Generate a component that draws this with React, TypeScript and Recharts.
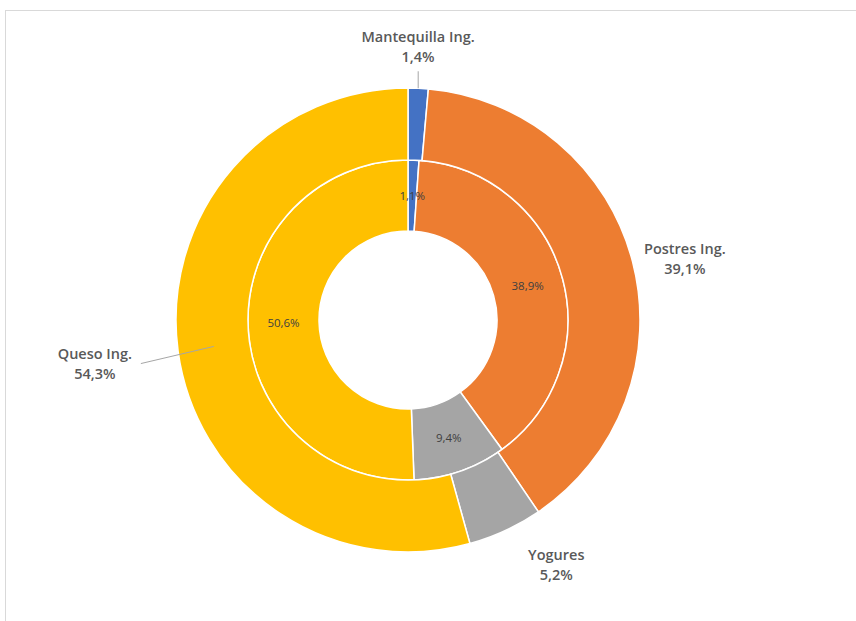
import { Cell, Pie, PieChart } from "recharts"

const CATEGORIES = ["Mantequilla Ing.", "Postres Ing.", "Yogures", "Queso Ing."]
const OUTER_VALUES = [1.4, 39.1, 5.2, 54.3]
const INNER_VALUES = [1.1, 38.9, 9.4, 50.6]

const COLORS = ["#4472c4", "#ed7d31", "#a5a5a5", "#ffc000"] as const

const RAD = Math.PI / 180
const fmt = (v: number) => `${v.toFixed(1).replace(".", ",")}%`

const outerData = CATEGORIES.map((name, i) => ({ name, value: OUTER_VALUES[i] }))
const innerData = CATEGORIES.map((name, i) => ({ name, value: INNER_VALUES[i] }))

// best-fit nudges for the outer labels, like Excel puts them
const LABEL_RADIUS = [42, 52, 52, 84]
const LABEL_NUDGE: [number, number][] = [
  [-2, 0],
  [2, 10],
  [29, -13],
  [0, 1],
]

function OuterLabel(props: any) {
  const { cx, cy, midAngle, outerRadius, index, value, name } = props
  const r = outerRadius + LABEL_RADIUS[index]
  const x = cx + r * Math.cos(-midAngle * RAD) + LABEL_NUDGE[index][0]
  const y = cy + r * Math.sin(-midAngle * RAD) + LABEL_NUDGE[index][1]
  const style = {
    fontFamily: "'Open Sans', sans-serif",
    fontSize: 14.5,
    fontWeight: 600,
    fill: "#595959",
  }
  let leader = null
  if (index === 0) {
    const ex = cx + outerRadius * Math.cos(-midAngle * RAD)
    const ey = cy + outerRadius * Math.sin(-midAngle * RAD)
    leader = <line x1={ex} y1={y + 25} x2={ex} y2={ey} stroke="#a6a6a6" strokeWidth={1} />
  }
  if (index === 3) {
    const ex = cx + (outerRadius - 36) * Math.cos(-midAngle * RAD)
    const ey = cy + (outerRadius - 36) * Math.sin(-midAngle * RAD)
    leader = <line x1={x + 46} y1={y} x2={ex} y2={ey} stroke="#a6a6a6" strokeWidth={1} />
  }
  return (
    <g>
      {leader}
      <text x={x} y={y - 10} textAnchor="middle" dominantBaseline="central" style={style}>
        {name}
      </text>
      <text x={x} y={y + 10} textAnchor="middle" dominantBaseline="central" style={style}>
        {fmt(value)}
      </text>
    </g>
  )
}

function InnerLabel(props: any) {
  const { cx, cy, midAngle, innerRadius, outerRadius, value } = props
  const r = (innerRadius + outerRadius) / 2
  const x = cx + r * Math.cos(-midAngle * RAD)
  const y = cy + r * Math.sin(-midAngle * RAD)
  return (
    <text
      x={x}
      y={y}
      textAnchor="middle"
      dominantBaseline="central"
      style={{ fontFamily: "'Open Sans', sans-serif", fontSize: 11.5, fill: "#404040" }}
    >
      {fmt(value)}
    </text>
  )
}

export default function App() {
  return (
    <div style={{ position: "fixed", left: 0, top: 0, width: 856, height: 621, overflow: "hidden", background: "#fff" }}>
      <div
        style={{
          position: "absolute",
          left: 5,
          top: 10,
          width: 900,
          height: 700,
          border: "1px solid #d9d9d9",
        }}
      />
      <div style={{ position: "absolute", left: 0, top: 0 }}>
        <PieChart width={856} height={621} margin={{ top: 0, right: 0, bottom: 0, left: 0 }}>
          <Pie
            data={innerData}
            dataKey="value"
            nameKey="name"
            cx={408}
            cy={320}
            innerRadius={89}
            outerRadius={160}
            startAngle={90}
            endAngle={-270}
            stroke="#fff"
            strokeWidth={1.5}
            label={InnerLabel}
            labelLine={false}
            isAnimationActive={false}
          >
            {innerData.map((_, i) => (
              <Cell key={`in-${i}`} fill={COLORS[i]} />
            ))}
          </Pie>
          <Pie
            data={outerData}
            dataKey="value"
            nameKey="name"
            cx={408}
            cy={320}
            innerRadius={160}
            outerRadius={232}
            startAngle={90}
            endAngle={-270}
            stroke="#fff"
            strokeWidth={1.5}
            label={OuterLabel}
            labelLine={false}
            isAnimationActive={false}
          >
            {outerData.map((_, i) => (
              <Cell key={`out-${i}`} fill={COLORS[i]} />
            ))}
          </Pie>
        </PieChart>
      </div>
    </div>
  )
}
